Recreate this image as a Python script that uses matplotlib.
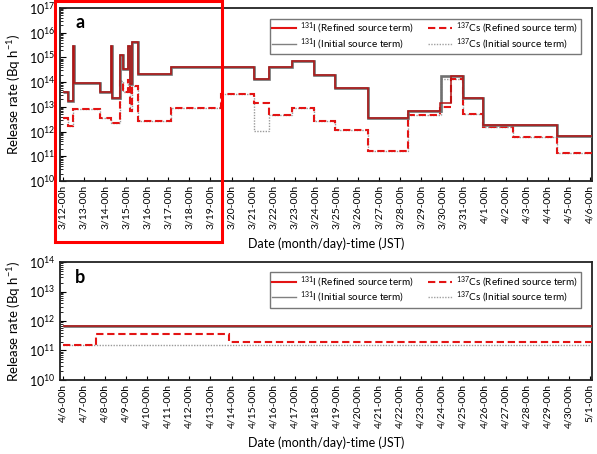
import numpy as np
import pandas as pd
import matplotlib
matplotlib.use('Agg')
import matplotlib.pyplot as plt
from matplotlib.lines import Line2D
from matplotlib.patches import Rectangle
from matplotlib.ticker import LogLocator, NullFormatter

plt.rcParams['font.family'] = ['Lato', 'DejaVu Sans']
plt.rcParams['mathtext.fontset'] = 'custom'
plt.rcParams['mathtext.rm'] = 'Lato'
plt.rcParams['mathtext.it'] = 'Lato:italic'
plt.rcParams['mathtext.bf'] = 'Lato:bold'

# ---- panel a: 3/12 00h - 4/6 00h, time in days from 3/12 00h ----
a_i131_ref_t = [0.0, 0.22, 0.46, 0.52, 1.76, 2.28, 2.34, 2.70, 2.86, 3.07, 3.18, 3.29, 3.55,
                5.12, 9.08, 9.79, 10.88, 11.93, 12.9, 14.45, 16.38, 17.88, 18.43, 18.99,
                19.91, 23.42, 25.1]
a_i131_ref_v = [3.9e13, 1.7e13, 3.0e15, 8.9e13, 3.9e13, 3.0e15, 2.2e13, 1.3e15, 3.3e14, 3.0e15,
                8.5e13, 4.1e15, 2.2e14, 4.2e14, 1.4e14, 4.0e14, 7.0e14, 1.9e14, 5.6e13, 3.7e12,
                7.0e12, 1.5e13, 1.8e14, 2.3e13, 1.9e12, 6.6e11]

a_i131_ini_t = [0.0, 0.22, 0.46, 0.52, 1.76, 2.28, 2.34, 2.70, 2.86, 3.07, 3.18, 3.29, 3.55,
                5.12, 9.08, 9.79, 10.88, 11.93, 12.9, 14.45, 16.38, 17.96, 18.99,
                19.91, 23.42, 25.1]
a_i131_ini_v = [3.9e13, 1.7e13, 3.0e15, 8.9e13, 3.9e13, 3.0e15, 2.2e13, 1.3e15, 3.3e14, 3.0e15,
                8.5e13, 4.1e15, 2.2e14, 4.2e14, 1.4e14, 4.0e14, 7.0e14, 1.9e14, 5.6e13, 3.7e12,
                7.0e12, 1.8e14, 2.3e13, 1.9e12, 6.6e11]

a_cs_ref_t = [0.0, 0.22, 0.46, 1.76, 2.28, 2.70, 2.86, 3.07, 3.18, 3.29, 3.55, 5.12, 7.5,
              9.08, 9.79, 10.88, 11.93, 12.9, 14.45, 16.38, 17.88, 18.43, 18.99, 19.91,
              21.36, 23.42, 25.1]
a_cs_ref_v = [3.7e12, 1.7e12, 8.2e12, 3.4e12, 2.2e12, 1.1e14, 4.0e13, 1.2e14, 7.0e12, 7.0e13,
              2.6e12, 9.0e12, 3.4e13, 1.4e13, 4.5e12, 8.7e12, 2.8e12, 1.2e12, 1.6e11, 4.5e12,
              9.6e12, 1.4e14, 5.0e12, 1.6e12, 6.1e11, 1.3e11]

a_cs_ini_t = [0.0, 0.22, 0.46, 1.76, 2.28, 2.70, 2.86, 3.07, 3.18, 3.29, 3.55, 5.12, 7.5,
              9.08, 9.79, 10.88, 11.93, 12.9, 14.45, 16.38, 17.96, 18.99, 19.91,
              21.36, 23.42, 25.1]
a_cs_ini_v = [3.7e12, 1.7e12, 8.2e12, 3.4e12, 2.2e12, 1.1e14, 4.0e13, 1.2e14, 7.0e12, 7.0e13,
              2.6e12, 9.0e12, 3.4e13, 1.07e12, 4.5e12, 8.7e12, 2.8e12, 1.2e12, 1.6e11, 4.5e12,
              1.4e14, 5.0e12, 1.6e12, 6.1e11, 1.3e11]

# ---- panel b: 4/6 00h - 5/1 00h ----
b_i131_ref_t = [0.0, 25.1]
b_i131_ref_v = [7.0e11]
b_i131_ini_t = [0.0, 25.1]
b_i131_ini_v = [7.0e11]
b_cs_ref_t = [0.0, 1.59, 7.9, 25.1]
b_cs_ref_v = [1.5e11, 3.7e11, 1.9e11]
b_cs_ini_t = [0.0, 25.1]
b_cs_ini_v = [1.5e11]

a_days = pd.date_range('2011-03-12', periods=26, freq='D')
b_days = pd.date_range('2011-04-06', periods=26, freq='D')
a_labels = ['%d/%d-00h' % (d.month, d.day) for d in a_days]
b_labels = ['%d/%d-00h' % (d.month, d.day) for d in b_days]

legend_labels = [r'$^{131}$I (Refined source term)', r'$^{131}$I (Initial source term)',
                 r'$^{137}$Cs (Refined source term)', r'$^{137}$Cs (Initial source term)']

fig = plt.figure(figsize=(5.97, 4.54), dpi=100)
ax_a = fig.add_axes([0.1005, 0.6013, 0.8911, 0.3811])
ax_b = fig.add_axes([0.1005, 0.163, 0.8911, 0.2599])

red = '#e31414'


def draw(ax, i_ref, i_ini, c_ref, c_ini):
    ax.stairs(c_ini[1], c_ini[0], color='#9a9a9a', lw=1.0, ls=(0, (1, 1)), baseline=None, zorder=2)
    ax.stairs(c_ref[1], c_ref[0], color=red, lw=1.5, ls=(0, (3.5, 1.8)), baseline=None, zorder=3)
    ax.stairs(i_ini[1], i_ini[0], color='#707070', lw=1.9, baseline=None, zorder=4)
    ax.stairs(i_ref[1], i_ref[0], color='#b41414', lw=1.1, baseline=None, zorder=5)


draw(ax_a, (a_i131_ref_t, a_i131_ref_v), (a_i131_ini_t, a_i131_ini_v),
     (a_cs_ref_t, a_cs_ref_v), (a_cs_ini_t, a_cs_ini_v))
draw(ax_b, (b_i131_ref_t, b_i131_ref_v), (b_i131_ini_t, b_i131_ini_v),
     (b_cs_ref_t, b_cs_ref_v), (b_cs_ini_t, b_cs_ini_v))

handles = [Line2D([], [], color=red, lw=1.5),
           Line2D([], [], color='#808080', lw=1.0),
           Line2D([], [], color=red, lw=1.5, ls=(0, (3.5, 1.8))),
           Line2D([], [], color='#a0a0a0', lw=1.0, ls=(0, (1, 1)))]

for ax, lims, labels, tag, tagy, legy in [(ax_a, (1e10, 1e17), a_labels, 'a', 0.915, 0.968),
                                           (ax_b, (1e10, 1e14), b_labels, 'b', 0.87, 0.958)]:
    ax.set_yscale('log')
    ax.set_ylim(*lims)
    ax.set_xlim(-0.14, 25.1)
    ax.yaxis.set_major_locator(LogLocator(base=10, numticks=20))
    ax.yaxis.set_minor_locator(LogLocator(base=10, subs=np.arange(2, 10), numticks=20))
    ax.yaxis.set_minor_formatter(NullFormatter())
    ax.set_xticks(np.arange(26))
    ax.set_xticklabels(labels, rotation=90, fontsize=7.5)
    ax.tick_params(axis='y', which='major', direction='in', length=4, width=0.8, labelsize=9)
    ax.tick_params(axis='y', which='minor', direction='in', length=2, width=0.6)
    ax.tick_params(axis='x', which='major', direction='in', length=3, width=0.8, pad=3)
    for s in ax.spines.values():
        s.set_linewidth(1.3)
        s.set_color('#222222')
    ax.set_ylabel(r'Release rate (Bq h$^{-1}$)', fontsize=9.5)
    ax.set_xlabel('Date (month/day)-time (JST)', fontsize=9, labelpad=6)
    ax.text(0.038, tagy, tag, transform=ax.transAxes, fontsize=13, fontweight='bold',
            ha='center', va='center')
    leg = ax.legend(handles, legend_labels, ncol=2, loc='upper right',
                    bbox_to_anchor=(0.988, legy), fontsize=7.2, frameon=True, fancybox=False,
                    handlelength=2.4, columnspacing=1.4, labelspacing=0.0, borderpad=0.25,
                    handletextpad=0.4)
    leg.get_frame().set_edgecolor('#555555')
    leg.get_frame().set_linewidth(1.0)

ax_a.yaxis.set_label_coords(-0.07, 0.5)
ax_b.yaxis.set_label_coords(-0.07, 0.5)

# red highlight box around 3/12 - 3/19
fig.patches.append(Rectangle((0.0921, 0.467), 0.2797, 0.530, transform=fig.transFigure,
                             fill=False, edgecolor='#ff0000', lw=2.2, zorder=10))

fig.savefig('out.png', dpi=100)
